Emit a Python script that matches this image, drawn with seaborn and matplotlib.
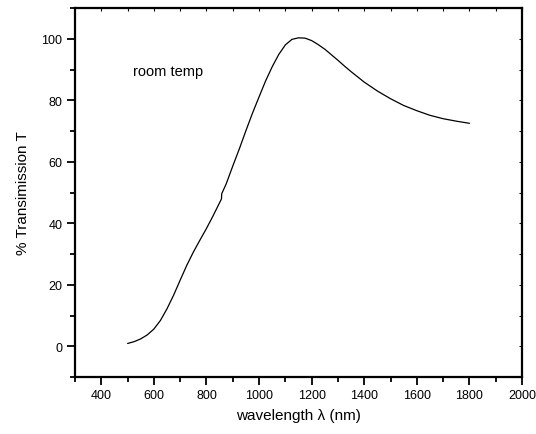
import pandas as pd
import matplotlib
matplotlib.use("Agg")
import matplotlib.pyplot as plt
import seaborn as sns
from matplotlib.ticker import MultipleLocator

# transmission curve (room temperature)
wavelength = [500, 525, 550, 575, 600, 625, 650, 675, 700, 725, 750, 775,
              800, 825, 850, 857, 858, 875, 900, 925, 950, 975, 1000, 1025,
              1050, 1075, 1100, 1125, 1150, 1175, 1200, 1225, 1250, 1275,
              1300, 1325, 1350, 1375, 1400, 1450, 1500, 1550, 1600, 1650,
              1700, 1750, 1800]
transmission = [0.9, 1.5, 2.4, 3.7, 5.6, 8.4, 12.2, 16.6, 21.5, 26.3, 30.6, 34.5,
                38.3, 42.4, 46.7, 47.9, 49.6, 52.8, 58.6, 64.2, 70.1, 75.8, 81.1, 86.3,
                90.9, 94.9, 98.0, 99.8, 100.3, 100.2, 99.4, 98.1, 96.6, 94.8,
                93.0, 91.1, 89.3, 87.6, 85.9, 83.0, 80.5, 78.3, 76.6, 75.1,
                74.0, 73.2, 72.5]

df = pd.DataFrame({"wavelength": wavelength, "T": transmission})

sns.set_theme(style="ticks", rc={
    "text.color": "black", "axes.labelcolor": "black", "axes.edgecolor": "black",
    "xtick.color": "black", "ytick.color": "black",
})
plt.rcParams['font.family'] = ['Liberation Sans', 'DejaVu Sans']

fig = plt.figure(figsize=(5.36, 4.35), dpi=100)
ax = fig.add_axes([75 / 536, 57 / 435, 447 / 536, 369 / 435])

sns.lineplot(data=df, x="wavelength", y="T", color="black", linewidth=0.9,
             sort=False, ax=ax)

ax.set_xlim(300, 2000)
ax.set_ylim(-10, 110)
ax.set_xticks([400, 600, 800, 1000, 1200, 1400, 1600, 1800, 2000])
ax.set_yticks([0, 20, 40, 60, 80, 100])
ax.xaxis.set_minor_locator(MultipleLocator(100))
ax.yaxis.set_minor_locator(MultipleLocator(10))

for s in ax.spines.values():
    s.set_linewidth(1.6)
    s.set_visible(True)

ax.tick_params(which="major", direction="out", length=6, width=1.3,
               labelsize=9, pad=3, top=False, right=False)
ax.tick_params(which="minor", direction="out", length=3.5, width=1.3,
               top=False, right=False)

# small inward marks on the top and right frame
sec_x = ax.secondary_xaxis("top")
sec_x.set_xticks(list(range(400, 2001, 100)))
sec_x.tick_params(direction="in", length=2.5, width=0.8, labeltop=False)
sec_x.spines["top"].set_visible(False)
sec_y = ax.secondary_yaxis("right")
sec_y.set_yticks(list(range(-10, 111, 10)))
sec_y.tick_params(direction="in", length=2.5, width=0.8, labelright=False)
sec_y.spines["right"].set_visible(False)

ax.set_xlabel("wavelength λ (nm)", fontsize=11, labelpad=5)
ax.set_ylabel("% Transimission T", fontsize=11, labelpad=8)

ax.text(520, 89.5, "room temp", fontsize=10.5, va="center", ha="left")

fig.savefig("out.png", dpi=100)
